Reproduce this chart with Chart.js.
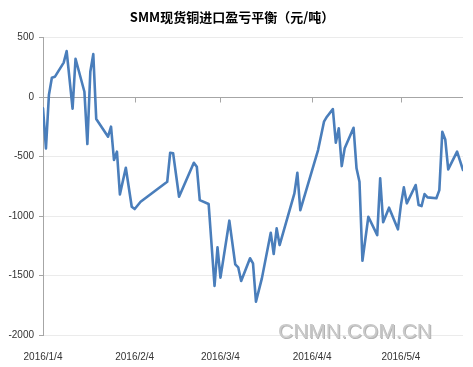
<!DOCTYPE html>
<html>
<head>
<meta charset="utf-8">
<script src="https://cdn.jsdelivr.net/npm/chart.js@4"></script>
<style>
html,body{margin:0;padding:0;background:#fff;}
#wrap{position:relative;width:473px;height:367px;}
canvas{display:block;}
#wm{position:absolute;left:278px;top:320px;font-family:"Liberation Sans",Arial,sans-serif;font-size:21px;line-height:1;color:#c9c9c9;text-shadow:1px 1px 0 #b3b3b3;white-space:nowrap;}
</style>
</head>
<body>
<div id="wrap">
<canvas id="c" width="473" height="367"></canvas>
<div id="wm">CNMN.COM.CN</div>
</div>
<script>
const titleText = 'SMM现货铜进口盈亏平衡（元/吨）';

const dates = [
 '2016-01-04','2016-01-05','2016-01-06','2016-01-07','2016-01-08','2016-01-11','2016-01-12','2016-01-14','2016-01-15','2016-01-18',
 '2016-01-19','2016-01-20','2016-01-21','2016-01-22','2016-01-26','2016-01-27','2016-01-28','2016-01-29','2016-01-30',
 '2016-02-01','2016-02-03','2016-02-04','2016-02-06','2016-02-15','2016-02-16','2016-02-17','2016-02-19','2016-02-24','2016-02-25','2016-02-26','2016-02-29',
 '2016-03-02','2016-03-03','2016-03-04','2016-03-07','2016-03-09','2016-03-10','2016-03-11','2016-03-14','2016-03-15','2016-03-16','2016-03-18',
 '2016-03-21','2016-03-22','2016-03-23','2016-03-24','2016-03-29','2016-03-30','2016-03-31',
 '2016-04-06','2016-04-08','2016-04-09','2016-04-11','2016-04-12','2016-04-13','2016-04-14','2016-04-15','2016-04-18','2016-04-19','2016-04-20',
 '2016-04-21','2016-04-23','2016-04-26','2016-04-27','2016-04-28','2016-04-30',
 '2016-05-03','2016-05-04','2016-05-05','2016-05-06','2016-05-09','2016-05-10','2016-05-11','2016-05-12','2016-05-13','2016-05-16',
 '2016-05-17','2016-05-18','2016-05-19','2016-05-20','2016-05-23','2016-05-25'
];

const values = [
 -95,-431,17,162,170,290,387,-98,322,45,
 -395,213,361,-185,-333,-249,-529,-459,-818,
 -594,-922,-941,-880,-712,-468,-473,-838,-552,-585,-866,-899,
 -1588,-1263,-1518,-1039,-1406,-1431,-1546,-1355,-1398,-1720,-1524,
 -1140,-1319,-1104,-1244,-809,-636,-950,
 -445,-207,-165,-101,-384,-263,-580,-431,-258,-599,-712,
 -1376,-1006,-1160,-683,-1052,-930,
 -1112,-908,-759,-893,-739,-908,-916,-815,-843,-851,
 -782,-291,-356,-608,-459,-613
];

const xTickDates = ['2016-01-04','2016-02-04','2016-03-04','2016-04-04','2016-05-04'];
const xTickLabels = ['2016/1/4','2016/2/4','2016/3/4','2016/4/4','2016/5/4'];
const yTicks = [-2000,-1500,-1000,-500,0,500];

const startDate = '2016-01-04';
const endDate = '2016-05-25';

function dayOff(s){
  const p = s.split('-').map(Number);
  const q = startDate.split('-').map(Number);
  return Math.round((Date.UTC(p[0],p[1]-1,p[2]) - Date.UTC(q[0],q[1]-1,q[2]))/86400000);
}
const tickDays = xTickDates.map(dayOff);

const zeroTicks = {
  id:'zeroTicks',
  beforeDatasetsDraw(chart){
    const {ctx, scales:{x,y}} = chart;
    const y0 = Math.round(y.getPixelForValue(0)) + 0.5;
    ctx.save();
    ctx.strokeStyle = '#a6a6a6';
    ctx.lineWidth = 1;
    ctx.beginPath();
    tickDays.forEach(v => {
      const px = Math.round(x.getPixelForValue(v)) + 0.5;
      ctx.moveTo(px, y0);
      ctx.lineTo(px, y0 + 5);
    });
    ctx.stroke();
    ctx.restore();
  }
};

new Chart(document.getElementById('c'), {
  type:'line',
  data:{
    datasets:[{
      data: dates.map((d,i)=>({x:dayOff(d), y:values[i]})),
      borderColor:'#4a7ebb',
      borderWidth:2.6,
      pointRadius:0,
      tension:0,
      fill:false,
      borderJoinStyle:'round',
      borderCapStyle:'round'
    }]
  },
  options:{
    responsive:false,
    animation:false,
    devicePixelRatio:1,
    layout:{padding:{left:1,right:10,top:0,bottom:0}},
    plugins:{
      legend:{display:false},
      tooltip:{enabled:false},
      title:{
        display:true,
        text:titleText,
        color:'#000',
        font:{family:'"Noto Sans CJK SC", sans-serif', size:13, weight:'bold'},
        padding:{top:9,bottom:13}
      }
    },
    scales:{
      x:{
        type:'linear',
        min:0,
        max:dayOff(endDate),
        position:'bottom',
        grid:{display:false},
        border:{display:false},
        afterBuildTicks:s=>{ s.ticks = tickDays.map(v=>({value:v})); },
        afterFit:s=>{ s.height = 32; },
        ticks:{
          autoSkip:false,
          maxRotation:0,
          padding:8,
          color:'#333',
          font:{family:'"Liberation Sans", Arial, sans-serif', size:10},
          callback:(v)=>{ const i = tickDays.indexOf(v); return i>=0 ? xTickLabels[i] : ''; }
        }
      },
      y:{
        min:yTicks[0],
        max:yTicks[yTicks.length-1],
        afterBuildTicks:s=>{ s.ticks = yTicks.map(v=>({value:v})); },
        afterFit:s=>{ s.width = 42; },
        grid:{
          color:c=> (c.tick && c.tick.value===0) ? '#a6a6a6' : '#ebebeb',
          tickColor:'#a6a6a6',
          tickLength:4,
          lineWidth:1
        },
        border:{display:true,color:'#a6a6a6'},
        ticks:{
          padding:5,
          color:'#333',
          font:{family:'"Liberation Sans", Arial, sans-serif', size:10},
          callback:(v)=>String(v)
        }
      }
    }
  },
  plugins:[zeroTicks]
});
</script>
</body>
</html>
